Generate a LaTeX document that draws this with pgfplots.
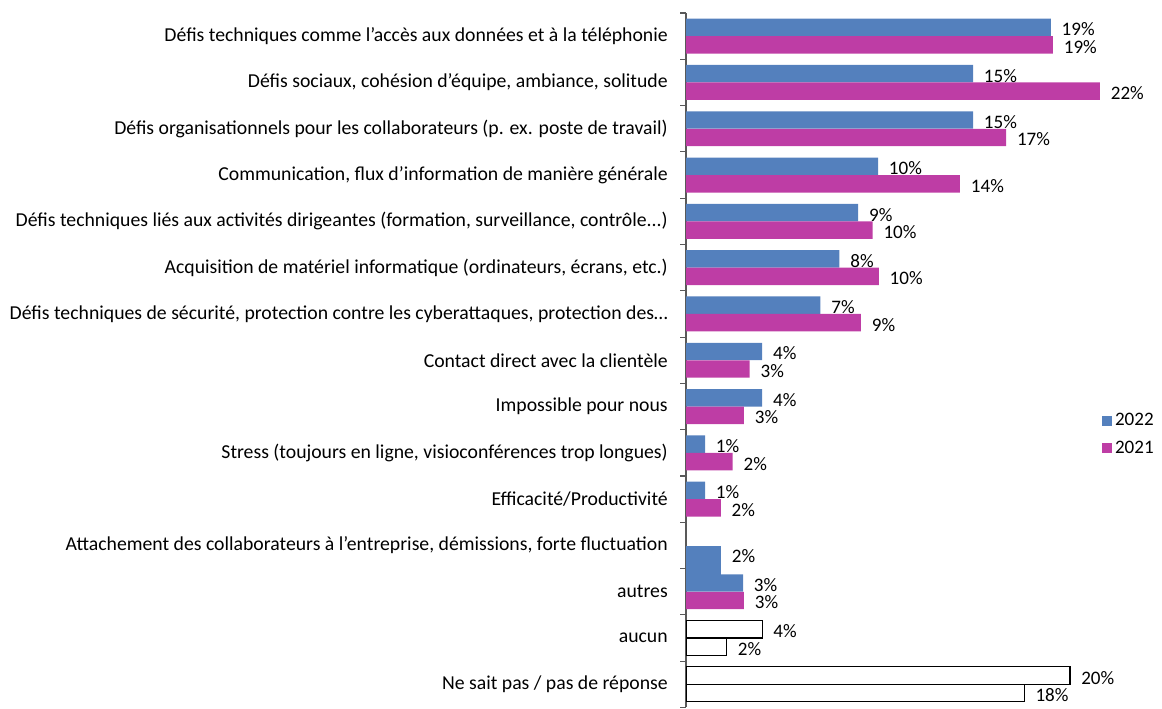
\documentclass[border=0pt]{standalone}
\usepackage{fontspec}
\setmainfont{Carlito}
\usepackage{pgfplots}
\pgfplotsset{compat=1.18}
\definecolor{cblue}{RGB}{84,128,189}
\definecolor{cpink}{RGB}{190,61,165}
\newcommand{\lf}{\fontsize{14.8pt}{17pt}\selectfont}
\newcommand{\nf}{\fontsize{14.3pt}{17pt}\selectfont}
\begin{document}
\begin{tikzpicture}
\useasboundingbox (0,0) rectangle (871.5pt,531.75pt);
\begin{axis}[
  at={(514.5pt,1.125pt)}, anchor=south west,
  scale only axis, width=345.6pt, height=520.875pt,
  xmin=0, xmax=24, ymin=-0.5, ymax=14.5,
  axis x line=none, axis y line*=left,
  axis line style={draw=black!65, line width=0.8pt},
  xbar, bar width=13.1pt,
  ytick={0,1,2,3,4,5,6,7,8,9,10,11,12,13,14},
  yticklabels={Ne sait pas / pas de réponse, aucun, autres,
    {Attachement des collaborateurs à l’entreprise, démissions, forte fluctuation},
    Efficacité/Productivité,
    {Stress (toujours en ligne, visioconférences trop longues)},
    Impossible pour nous, Contact direct avec la clientèle,
    {Défis techniques de sécurité, protection contre les cyberattaques, protection des…},
    {Acquisition de matériel informatique (ordinateurs, écrans, etc.)},
    {Défis techniques liés aux activités dirigeantes (formation, surveillance, contrôle{.}{.}{.})},
    {Communication, flux d’information de manière générale},
    {Défis organisationnels pour les collaborateurs (p. ex. poste de travail)},
    {Défis sociaux, cohésion d’équipe, ambiance, solitude},
    {Défis techniques comme l’accès aux données et à la téléphonie}},
  major tick length=0pt,
  minor ytick={-0.5,0.5,1.5,2.5,3.5,4.5,5.5,6.5,7.5,8.5,9.5,10.5,11.5,12.5,13.5,14.5},
  minor tick length=4.5pt, tick align=outside,
  minor tick style={draw=black!65, line width=0.8pt},
  yticklabel style={font=\lf, anchor=east, inner sep=0pt, xshift=-13.5pt},
  point meta=explicit symbolic,
  nodes near coords={\pgfplotspointmeta\%},
  every node near coord/.append style={font=\nf, anchor=west, inner sep=0pt, xshift=8pt, yshift=-1.5pt, text=black},
  legend style={at={(0.903,0.393)}, anchor=west, draw=none, fill=none, font=\nf,
    row sep=6pt, inner sep=0pt},
  legend cell align=left,
  legend image code/.code={\fill[#1] (0pt,-3.75pt) rectangle (7.5pt,3.75pt);},
]
% Attachement: single odd bar
\addplot[fill=cblue, draw=none, bar shift=-12.4pt, bar width=23.25pt, forget plot,
  every node near coord/.append style={yshift=6pt}]
  coordinates {(1.82,3) [2]};
% 2022
\addplot[fill=cblue, draw=none, bar shift=6.56pt] coordinates {
  (19.0,14) [19] (14.95,13) [15] (14.95,12) [15] (10.0,11) [10]
  (8.97,10) [9] (7.99,9) [8] (7.0,8) [7] (3.97,7) [4] (3.97,6) [4]
  (0.99,5) [1] (0.99,4) [1] (2.97,2) [3]};
\addlegendentry{2022}
% 2021
\addplot[fill=cpink, draw=none, bar shift=-6.56pt] coordinates {
  (19.11,14) [19] (21.56,13) [22] (16.67,12) [17] (14.27,11) [14]
  (9.72,10) [10] (10.04,9) [10] (9.11,8) [9] (3.32,7) [3] (3.02,6) [3]
  (2.43,5) [2] (1.81,4) [2] (3.02,2) [3]};
\addlegendentry{2021}
% white bars
\addplot[fill=white, draw=black, line width=0.9pt, bar shift=6.56pt, forget plot]
  coordinates {(3.97,1) [4] (20.0,0) [20]};
\addplot[fill=white, draw=black, line width=0.9pt, bar shift=-6.56pt, forget plot]
  coordinates {(2.12,1) [2] (17.62,0) [18]};
\end{axis}
\end{tikzpicture}
\end{document}
